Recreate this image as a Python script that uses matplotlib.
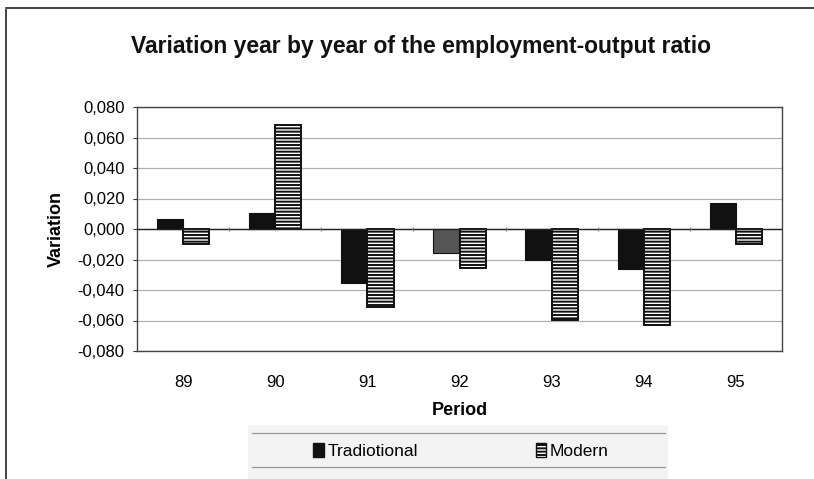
import matplotlib
matplotlib.use("Agg")
import matplotlib.pyplot as plt
from matplotlib.patches import Patch, Rectangle
from matplotlib.lines import Line2D
import numpy as np

plt.rcParams['font.family'] = ['Liberation Sans', 'DejaVu Sans']
plt.rcParams['hatch.linewidth'] = 1.4

periods = ["89", "90", "91", "92", "93", "94", "95"]
traditional = [0.0066, 0.0103, -0.0352, -0.0155, -0.0203, -0.0262, 0.0172]
modern = [-0.0098, 0.0680, -0.0510, -0.0258, -0.0597, -0.0632, -0.0098]
yticks = [-0.08, -0.06, -0.04, -0.02, 0.0, 0.02, 0.04, 0.06, 0.08]
ytick_labels = ["-0,080", "-0,060", "-0,040", "-0,020", "0,000", "0,020", "0,040", "0,060", "0,080"]
trad_colors = ["#111111", "#111111", "#111111", "#555555", "#111111", "#111111", "#111111"]

W, H = 814, 479
fig = plt.figure(figsize=(W / 100, H / 100), dpi=100)
fig.patch.set_facecolor("white")

ax = fig.add_axes([137 / W, 1 - 351 / H, (782 - 137) / W, (351 - 107) / H])
x = np.arange(len(periods))
bw = 0.285
ax.bar(x - bw / 2, traditional, bw, color=trad_colors, edgecolor="#111111", linewidth=0.8, zorder=3)
ax.bar(x + bw / 2, modern, bw, color="white", edgecolor="#111111", hatch="-----", linewidth=1.4, zorder=3)

ax.set_xlim(-0.5, len(periods) - 0.5)
ax.set_ylim(-0.08, 0.08)
ax.set_yticks(yticks)
ax.set_yticklabels(ytick_labels, fontsize=12)
ax.set_xticks(x)
ax.set_xticklabels(periods, fontsize=12)
ax.tick_params(axis="x", length=0, pad=17)
ax.tick_params(axis="y", length=3, width=0.8, color="#333333", pad=6, direction="out")
ax.grid(axis="y", color="#b0b0b0", linewidth=0.9, zorder=0)
ax.axhline(0, color="#222222", linewidth=1.0, zorder=4)
ax.vlines(np.arange(len(periods) - 1) + 0.5, -0.0012, 0.0012, color="#777777", linewidth=0.8, zorder=4)
for s in ax.spines.values():
    s.set_color("#444444")
    s.set_linewidth(1.0)

ax.set_ylabel("Variation", fontsize=13, fontweight="bold", labelpad=9)
ax.set_xlabel("Period", fontsize=13, fontweight="bold", labelpad=9)

fig.text(421 / W, 1 - 47 / H, "Variation year by year of the employment-output ratio",
         ha="center", va="center", fontsize=16.5, fontweight="bold", color="#111111")

# outer chart border (partial, as in reference)
fig.add_artist(Line2D([6 / W, 6 / W], [0, 1 - 10 / H], color="#222222", linewidth=1.2, transform=fig.transFigure))
fig.add_artist(Line2D([6 / W, 1], [1 - 8 / H, 1 - 8 / H], color="#222222", linewidth=1.2, transform=fig.transFigure))

# legend background and rules
fig.add_artist(Rectangle((248 / W, 0), (668 - 248) / W, (479 - 425) / H, transform=fig.transFigure,
                         facecolor="#f3f3f3", edgecolor="none", zorder=0))
for yy in (433, 467):
    fig.add_artist(Line2D([252 / W, 665 / W], [1 - yy / H, 1 - yy / H], color="#999999",
                          linewidth=0.9, transform=fig.transFigure))

handles = [Patch(facecolor="#111111", edgecolor="#111111", label="Tradiotional"),
           Patch(facecolor="white", edgecolor="#111111", hatch="-----", label="Modern")]
fig.legend(handles=handles, loc="center", bbox_to_anchor=(461 / W, 1 - 451 / H), ncol=2,
           frameon=False, fontsize=12.5, handlelength=0.6, handleheight=0.9, handletextpad=0.2,
           columnspacing=6.8)

fig.savefig("out.png", dpi=100)
